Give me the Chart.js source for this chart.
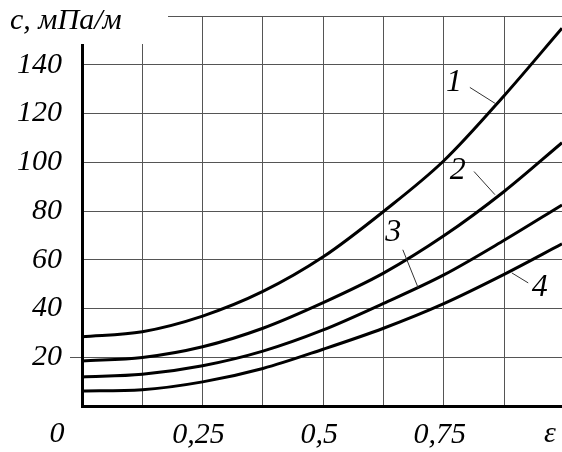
<!DOCTYPE html>
<html>
<head>
<meta charset="utf-8">
<script src="https://cdn.jsdelivr.net/npm/chart.js@4"></script>
<style>
html,body{margin:0;padding:0;background:#fff;}
#wrap{width:562px;height:452px;position:relative;}
</style>
</head>
<body>
<div id="wrap"><canvas id="c" width="562" height="452"></canvas></div>
<script>
// ---- data ----
const eps = [0, 0.125, 0.25, 0.375, 0.5, 0.625, 0.75, 0.875, 0.995];
const curve1 = [28.4, 30.5, 36.9, 47.0, 61.2, 79.8, 100.6, 127.3, 155];
const curve2 = [18.5, 19.9, 24.3, 31.9, 42.4, 54.5, 69.8, 88.0, 108];
const curve3 = [11.9, 13.0, 16.5, 22.5, 31.2, 42.1, 53.8, 68.0, 82.5];
const curve4 = [6.2, 6.7, 9.9, 15.4, 23.3, 31.9, 42.0, 54.0, 66.5];
const xTickLabels = {0.25: '0,25', 0.5: '0,5', 0.75: '0,75'};
const yTickLabels = [20, 40, 60, 80, 100, 120, 140];
const yTitle = 'c, мПа/м';
const xTitle = 'ε';
const originLabel = '0';
// curve number labels: [text, labelX, labelY, leaderFromX, leaderFromY, leaderToX, leaderToY] (data units)
const curveLabels = [
  ['1', 0.771, 132.5, 0.804, 130.7, 0.856, 124.2],
  ['2', 0.779, 96.6, 0.8126, 96.2, 0.856, 86.7],
  ['3', 0.645, 71.1, 0.665, 64.1, 0.697, 48.4],
  ['4', 0.949, 48.4, 0.891, 54.6, 0.925, 50.5]
];

const FONT = "'Liberation Serif', 'Times New Roman', serif";
const pts = arr => eps.map((x, i) => ({x: x, y: arr[i]}));
const ds = arr => ({data: pts(arr), borderColor: '#000', borderWidth: 3, pointRadius: 0,
  cubicInterpolationMode: 'monotone', fill: false});

const overlay = {
  id: 'overlay',
  afterDraw(chart) {
    const ctx = chart.ctx, xs = chart.scales.x, ys = chart.scales.y;
    ctx.save();
    // leader lines
    ctx.strokeStyle = '#333'; ctx.lineWidth = 1;
    curveLabels.forEach(l => {
      ctx.beginPath();
      ctx.moveTo(xs.getPixelForValue(l[3]), ys.getPixelForValue(l[4]));
      ctx.lineTo(xs.getPixelForValue(l[5]), ys.getPixelForValue(l[6]));
      ctx.stroke();
    });
    ctx.fillStyle = '#000';
    ctx.font = 'italic 32px ' + FONT;
    ctx.textAlign = 'center'; ctx.textBaseline = 'middle';
    curveLabels.forEach(l => {
      ctx.fillText(l[0], xs.getPixelForValue(l[1]), ys.getPixelForValue(l[2]));
    });
    // origin and axis name labels
    ctx.font = 'italic 30px ' + FONT;
    ctx.fillText(originLabel, xs.getPixelForValue(0) - 25, 434);
    ctx.fillText(xTitle, 550, 434);
    // y title with white background
    ctx.fillStyle = '#fff';
    ctx.fillRect(0, 0, 168, 44);
    ctx.fillStyle = '#000';
    ctx.textAlign = 'left'; ctx.textBaseline = 'alphabetic';
    ctx.fillText(yTitle, 10, 29);
    ctx.restore();
  }
};

new Chart(document.getElementById('c'), {
  type: 'line',
  data: {datasets: [ds(curve1), ds(curve2), ds(curve3), ds(curve4)]},
  options: {
    responsive: false,
    animation: false,
    layout: {padding: {top: 16, right: 0, left: 0, bottom: 0}},
    plugins: {legend: {display: false}, tooltip: {enabled: false}},
    scales: {
      x: {
        type: 'linear', min: 0, max: 0.995,
        afterFit(s) { s.height = 46; s.paddingLeft = 0; s.paddingRight = 0; },
        ticks: {stepSize: 0.125, includeBounds: false, autoSkip: false, maxRotation: 0,
          padding: 11, labelOffset: -4, color: '#000', font: {family: FONT, size: 30, style: 'italic'},
          callback: v => xTickLabels[v] || ''},
        grid: {color: '#555', lineWidth: 1, drawTicks: false},
        border: {display: true, color: '#000', width: 3}
      },
      y: {
        type: 'linear', min: 0, max: 160,
        afterFit(s) { s.width = 82; s.paddingTop = 0; s.paddingBottom = 0; },
        ticks: {stepSize: 20, padding: 8, color: '#000',
          font: {family: FONT, size: 30, style: 'italic'},
          callback: v => yTickLabels.includes(v) ? String(v) : ''},
        grid: {color: '#555', lineWidth: 1, tickLength: 12,
          tickColor: c => (c.tick && c.tick.value === 20) ? '#555' : 'rgba(0,0,0,0)'},
        border: {display: true, color: '#000', width: 3}
      }
    }
  },
  plugins: [overlay]
});
</script>
</body>
</html>
